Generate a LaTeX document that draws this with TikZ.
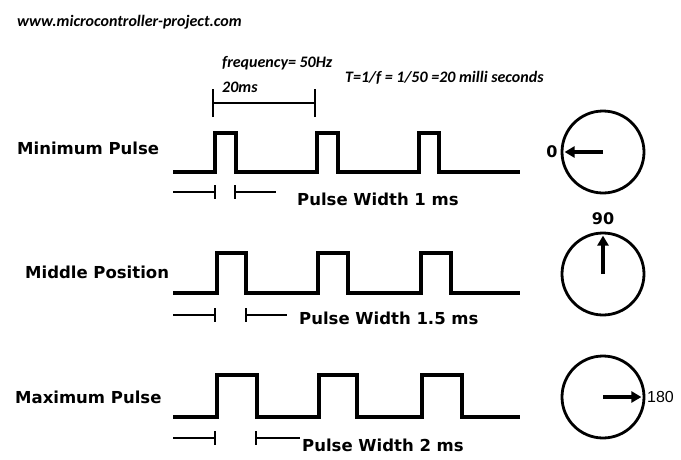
\documentclass[tikz,border=0pt]{standalone}
\usepackage{fontspec}
\usetikzlibrary{arrows.meta}
\newfontfamily\notefont{Carlito}
\newfontfamily\labelfont{DejaVu Sans}
\newfontfamily\plainfont{Liberation Sans}
\begin{document}
\begin{tikzpicture}[x=1pt,y=-1pt,
  wave/.style={line width=3.2pt,line join=miter},
  gauge/.style={line width=2.2pt},
  dial/.style={circle,draw,line width=2.8pt,minimum size=82pt,inner sep=0pt},
  needle/.style={line width=4.2pt,-{Triangle[length=10pt,width=11pt]}},
  note/.style={font=\notefont\bfseries\itshape\fontsize{16}{18}\selectfont,inner sep=0pt},
  rowlabel/.style={font=\labelfont\bfseries\fontsize{16.5}{18}\selectfont,inner sep=0pt,anchor=west},
  widthlabel/.style={font=\labelfont\bfseries\fontsize{16.5}{18}\selectfont,inner sep=0pt,anchor=west},
  angle/.style={font=\labelfont\bfseries\fontsize{16}{18}\selectfont,inner sep=0pt}]
\useasboundingbox (0,0) rectangle (681,459);

% header notes
\node[note,anchor=west] (site) at (17,22) {www.microcontroller-project.com};
\node[note,anchor=west] (freq) at (222,63) {frequency= 50Hz};
\node[note,anchor=west] (period) at (345,78) {T=1/f = 1/50 =20 milli seconds};
\node[note,anchor=west] (ms) at (222,87) {20ms};

% one-period bracket
\coordinate (pa) at (213,103);
\coordinate (pb) at (315,103);
\draw[gauge] (pa) -- (pb);
\draw[gauge] ([yshift=-14pt]pa) -- ([yshift=14pt]pa);
\draw[gauge] ([yshift=-14pt]pb) -- ([yshift=14pt]pb);

% row labels
\node[rowlabel] (minlab) at (17,148) {Minimum Pulse};
\node[rowlabel] (midlab) at (25,272) {Middle Position};
\node[rowlabel] (maxlab) at (15,397) {Maximum Pulse};

% pulse trains
\draw[wave] (173,172) -- (215,172) -- (215,133) -- (236,133) -- (236,172)
  -- (317,172) -- (317,133) -- (338,133) -- (338,172)
  -- (419,172) -- (419,133) -- (439,133) -- (439,172) -- (520,172);
\draw[wave] (173,293) -- (217,293) -- (217,253) -- (246,253) -- (246,293)
  -- (318,293) -- (318,253) -- (348,253) -- (348,293)
  -- (421,293) -- (421,253) -- (451,253) -- (451,293) -- (520,293);
\draw[wave] (173,417) -- (217,417) -- (217,375) -- (257,375) -- (257,417)
  -- (319,417) -- (319,375) -- (357,375) -- (357,417)
  -- (422,417) -- (422,375) -- (462,375) -- (462,417) -- (520,417);

% pulse width gauges
\foreach \y/\r/\e in {192/235/276, 315/246/287, 438/256/300}{
  \draw[gauge] (173,\y) -- (215,\y);
  \draw[gauge] (215,\y-7) -- (215,\y+7);
  \draw[gauge] (\r,\y-7) -- (\r,\y+7);
  \draw[gauge] (\r,\y) -- (\e,\y);
}
\node[widthlabel] (w1) at (297,199) {Pulse Width 1 ms};
\node[widthlabel] (w2) at (299,318) {Pulse Width 1.5 ms};
\node[widthlabel] (w3) at (302,445) {Pulse Width 2 ms};

% servo dials
\node[dial] (d1) at (603,152) {};
\node[dial] (d2) at (603,274) {};
\node[dial] (d3) at (603,397) {};
\draw[needle] (d1.center) -- ([xshift=4pt]d1.west);
\draw[needle] (d2.center) -- ([yshift=-4pt]d2.north);
\draw[needle] (d3.center) -- ([xshift=-4pt]d3.east);
\node[angle] (a0) at (552,152) {0};
\node[angle] (a90) at (603,219) {90};
\node[font=\plainfont\fontsize{16}{18}\selectfont,inner sep=0pt,anchor=west] (a180) at (647,397) {180};
\end{tikzpicture}
\end{document}
